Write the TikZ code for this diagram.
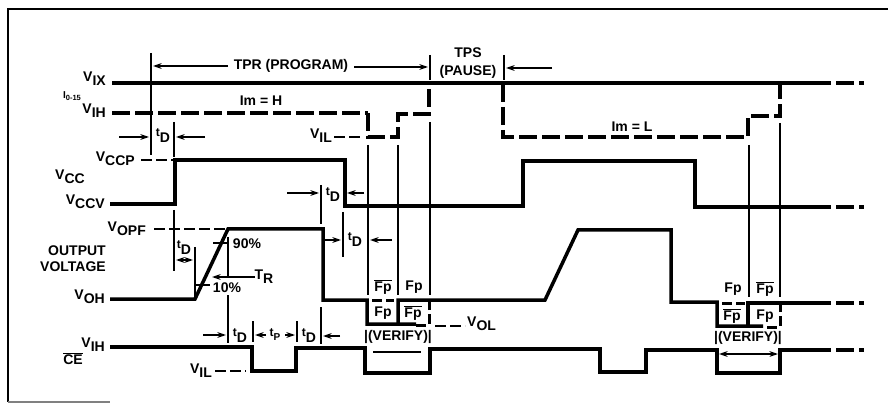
\documentclass[tikz,border=0pt]{standalone}
\usepackage{fontspec}
\setmainfont{Liberation Sans}
\usetikzlibrary{arrows.meta, positioning}
\newcommand{\lowsub}[2]{#1\raisebox{-4pt}{#2}}
\newcommand{\timed}{{\fontsize{12}{12}\selectfont\raisebox{2.5pt}{t}}\raisebox{-3.5pt}{D}}
\newcommand{\barfp}{$\overline{\mbox{Fp}}$}
\begin{document}
\begin{tikzpicture}[
    x=1pt, y=-1pt,
    every node/.style={font=\bfseries\fontsize{14}{15}\selectfont, inner sep=0pt},
    lblr/.style={anchor=east},
    sig/.style={line width=3.5pt, line join=miter},
    sigd/.style={line width=3.5pt, dash pattern=on 18pt off 5pt},
    gap/.style={line width=2pt, dash pattern=on 11pt off 4pt},
    gapb/.style={line width=3pt, dash pattern=on 10pt off 4pt},
    thinl/.style={line width=1.5pt},
    ar/.style={-{Stealth[length=3mm,width=2mm]}, line width=1.4pt},
    arb/.style={{Stealth[length=3mm,width=2mm]}-{Stealth[length=3mm,width=2mm]}, line width=1.4pt}
]
\useasboundingbox (0,0) rectangle (888,403);
% ----- Frame -----
\draw[line width=2pt] (888,9) -- (8,9) -- (8,402);
\draw[line width=1.4pt, gray] (8,402) -- (110,402);
% ----- Left labels -----
\node[lblr] (vix) at (106,79) {\lowsub{V}{IX}};
\node (iol) at (72,96) {\fontsize{10}{10}\selectfont I\raisebox{-1.5pt}{\fontsize{7.5}{8}\selectfont 0-15}};
\node[lblr] (vih) at (106,111) {\lowsub{V}{IH}};
\node[lblr] (vccp) at (135,159) {\lowsub{V}{CCP}};
\node (vcc) at (70,177) {\lowsub{V}{CC}};
\node[lblr] (vccv) at (105,202) {\lowsub{V}{CCV}};
\node[lblr] (vopf) at (146,229) {\lowsub{V}{OPF}};
\node[lblr] (outp) at (106,251) {OUTPUT};
\node[lblr] (volt) at (106,267) {VOLTAGE};
\node[lblr] (voh) at (105,297) {\lowsub{V}{OH}};
\node[lblr] (vihc) at (105,345) {\lowsub{V}{IH}};
\node (cebar) at (73,359) {$\overline{\mbox{CE}}$};
\node[lblr] (vilc) at (212,371) {\lowsub{V}{IL}};
\node[lblr] (vilt) at (332,136) {\lowsub{V}{IL}};
\node[anchor=west] (vol) at (467,324) {\lowsub{V}{OL}};
% ----- Top labels -----
\node (tpr) at (291,66) {TPR (PROGRAM)};
\node (tps) at (468,53) {TPS};
\node (pause) at (468,72) {(PAUSE)};
\node (imh) at (261,101) {Im = H};
\node (iml) at (632,127) {Im = L};
% ----- Supply line -----
\draw[sig] (112,83) -- (813,83);
\draw[sigd] (813,83) -- (864,83);
% ----- Im line -----
\draw[sigd] (112,113) -- (368,113);
\draw[sigd] (368,113) -- (368,137) -- (398,137) -- (398,114) -- (429,114) -- (429,84);
\draw[sigd] (503,84) -- (503,137) -- (748,137) -- (748,116) -- (780,116) -- (780,85);
\draw[gap] (334,137) -- (363,137);
% ----- VCC line -----
\draw[sig] (110,204) -- (175,204) -- (175,160) -- (345,160) -- (345,206) -- (523,206) -- (523,161) -- (695,161) -- (695,207) -- (813,207);
\draw[sigd] (813,207) -- (864,207);
\draw[gap] (141,160) -- (173,160);
% ----- Output line -----
\draw[sig] (110,299) -- (195,299) -- (228,229) -- (323,229) -- (323,300) -- (367,300) -- (367,324) -- (416,324);
\draw[sig] (398,324) -- (398,300) -- (545,300) -- (578,230) -- (671,230) -- (671,302) -- (717,302) -- (717,326) -- (763,326);
\draw[sig] (748,326) -- (748,303) -- (813,303);
\draw[sigd] (813,303) -- (864,303);
\draw[gapb] (372,300) -- (394,300);
\draw[gapb] (722,303) -- (745,303);
\draw[gapb] (416,325) -- (429,325) -- (429,300);
\draw[gapb] (767,327) -- (780,327) -- (780,303);
\draw[gap] (154,229) -- (225,229);
\draw[gap] (435,326) -- (465,326);
% ----- CE line -----
\draw[sig] (110,347) -- (252,347) -- (252,371) -- (296,371) -- (296,348) -- (365,348) -- (365,373) -- (430,373) -- (430,349) -- (600,349) -- (600,372) -- (646,372) -- (646,350) -- (717,350) -- (717,373) -- (780,373) -- (780,350) -- (813,350);
\draw[sigd] (813,350) -- (864,350);
\draw[gap] (215,371) -- (246,371);
% ----- Thin verticals -----
\draw[thinl] (151,53) -- (151,155);
\draw[thinl] (174,122) -- (174,157);
\draw[thinl] (430,55) -- (430,80);
\draw[thinl] (504,55) -- (504,80);
\draw[thinl] (368,145) -- (368,295);
\draw[thinl] (398,145) -- (398,295);
\draw[thinl] (430,122) -- (430,295);
\draw[thinl] (749,145) -- (749,297);
\draw[thinl] (780,123) -- (780,297);
\draw[thinl] (321,185) -- (321,224);
\draw[thinl] (343,212) -- (343,257);
\draw[thinl] (174,210) -- (174,271);
\draw[thinl] (195,247) -- (195,297);
\draw[thinl] (228,237) -- (228,278);
\draw[thinl] (228,295) -- (228,343);
\draw[thinl] (253,321) -- (253,342);
\draw[thinl] (297,321) -- (297,342);
\draw[thinl] (321,307) -- (321,344);
% ----- Time arrows -----
\draw[ar] (228,66) -- (153,66);
\draw[ar] (354,67) -- (428,67);
\draw[ar] (552,68) -- (506,68);
\draw[ar] (119,137) -- (149,137);
\draw[ar] (205,137) -- (176,137);
\draw[ar] (287,193) -- (319,193);
\draw[ar] (364,193) -- (347,193);
\draw[ar] (325,240) -- (341,240);
\draw[ar] (392,240) -- (370,240);
\draw[arb] (176,260) -- (193,260);
\draw[ar] (255,277) -- (212,277);
\draw[thinl] (213,243) -- (228,243);
\draw[thinl] (195,285) -- (210,285);
\draw[ar] (203,335) -- (226,335);
\draw[ar] (266,335) -- (255,335);
\draw[ar] (285,335) -- (295,335);
\draw[ar] (340,336) -- (323,336);
\draw[thinl] (373,352) -- (421,352);
\draw[arb] (719,354) -- (778,354);
% ----- Delay labels -----
\node (tda) at (163,136) {\timed};
\node (tdb) at (333,195) {\timed};
\node (tdc) at (355,240) {\timed};
\node (tdd) at (184,248) {\timed};
\node (tde) at (240,336) {\timed};
\node (tdf) at (309,336) {\timed};
\node (tpp) at (275,335) {{\fontsize{12}{12}\selectfont\raisebox{2pt}{t}}\raisebox{-2pt}{\fontsize{10}{10}\selectfont P}};
\node (trr) at (264,277) {\lowsub{T}{R}};
\node (nin) at (247,244) {90\%};
\node (ten) at (227,288) {10\%};
% ----- Verify labels -----
\node (fpa) at (383,287) {\barfp};
\node (fpb) at (414,287) {Fp};
\node (fpc) at (383,313) {Fp};
\node (fpd) at (413,313) {\barfp};
\node (vera) at (398,337) {|(VERIFY)|};
\node (fpe) at (733,289) {Fp};
\node (fpf) at (765,289) {\barfp};
\node (fpg) at (732,316) {\barfp};
\node (fph) at (765,316) {Fp};
\node (verb) at (748,338) {|(VERIFY)|};
\end{tikzpicture}
\end{document}
